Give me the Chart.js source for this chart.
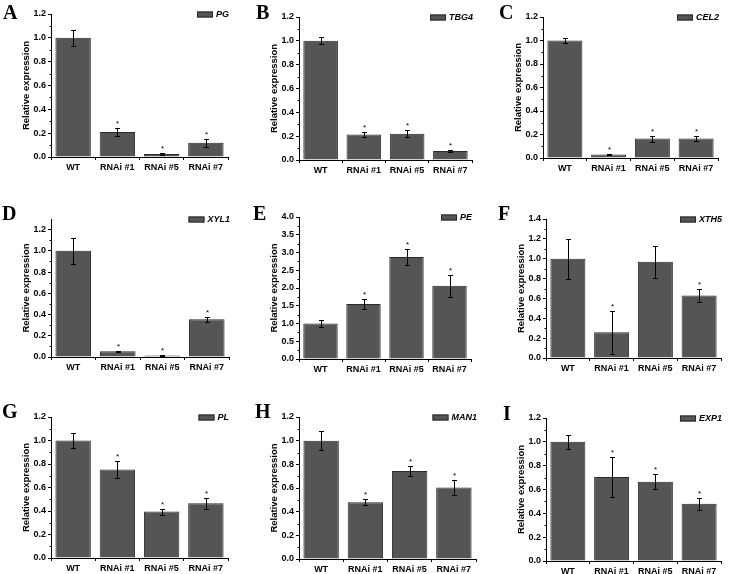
<!DOCTYPE html>
<html>
<head>
<meta charset="utf-8">
<script src="https://cdn.jsdelivr.net/npm/chart.js@4.4.1/dist/chart.umd.min.js"></script>
<style>
  body { margin: 0; background: #fff; }
  #fig { position: relative; width: 729px; height: 574px; overflow: hidden; }
  #fig canvas { position: absolute; }
  .tag { position: absolute; font: bold 20px "Liberation Serif", "Times New Roman", serif; line-height: 20px; color: #000; }
</style>
</head>
<body>
<div id="fig"></div>
<script>
// categories shared by every panel
const categories = ["WT", "RNAi #1", "RNAi #5", "RNAi #7"]
const panelLetters = ["A", "B", "C", "D", "E", "F", "G", "H", "I"]
const geneNames = ["PG", "TBG4", "CEL2", "XYL1", "PE", "XTH5", "PL", "MAN1", "EXP1"]

// relative expression (mean) and error per gene
const pgMeans = [1.0, 0.21, 0.025, 0.12]
const pgErrors = [0.065, 0.03, 0.005, 0.035]
const tbg4Means = [1.0, 0.215, 0.22, 0.075]
const tbg4Errors = [0.03, 0.02, 0.03, 0.005]
const cel2Means = [1.0, 0.03, 0.165, 0.165]
const cel2Errors = [0.025, 0.005, 0.025, 0.02]
const xyl1Means = [1.0, 0.055, 0.015, 0.355]
const xyl1Errors = [0.12, 0.006, 0.003, 0.025]
const peMeans = [1.0, 1.55, 2.87, 2.06]
const peErrors = [0.11, 0.14, 0.23, 0.31]
const xth5Means = [1.0, 0.26, 0.97, 0.63]
const xth5Errors = [0.2, 0.215, 0.16, 0.065]
const plMeans = [1.0, 0.754, 0.395, 0.466]
const plErrors = [0.063, 0.075, 0.025, 0.045]
const man1Means = [1.0, 0.48, 0.743, 0.605]
const man1Errors = [0.08, 0.027, 0.042, 0.065]
const exp1Means = [1.0, 0.705, 0.666, 0.48]
const exp1Errors = [0.06, 0.165, 0.065, 0.05]

// significance marks (asterisk above the error bar)
const starsDefault = [false, true, true, true]
const starsXth5 = [false, true, false, true]

// y axis ranges and tick steps
const yMaxes = [1.2, 1.2, 1.2, 1.3, 4.0, 1.4, 1.2, 1.2, 1.2]
const ySteps = [0.2, 0.2, 0.2, 0.2, 0.5, 0.2, 0.2, 0.2, 0.2]

const allMeans = [pgMeans, tbg4Means, cel2Means, xyl1Means, peMeans, xth5Means, plMeans, man1Means, exp1Means]
const allErrors = [pgErrors, tbg4Errors, cel2Errors, xyl1Errors, peErrors, xth5Errors, plErrors, man1Errors, exp1Errors]
const allStars = [starsDefault, starsDefault, starsDefault, starsDefault, starsDefault, starsXth5, starsDefault, starsDefault, starsDefault]

// layout: canvas cells and target plot rectangles (page pixels)
const colX = [0, 243, 486]
const rowY = [0, 190, 385]
const rowH = [190, 195, 189]
const plotBoxes = [
  [51, 14, 228, 157], [299, 17, 472, 160], [543, 17, 718, 158],
  [51, 219, 229, 357], [299, 217, 471, 359], [546, 219, 721, 358],
  [51, 417, 228, 558], [299, 417, 476, 559], [546, 418, 721, 561],
]
const letterPos = [
  [3, 2], [256, 2], [499, 2],
  [2, 203], [253, 203], [498, 203],
  [2, 401], [255, 401], [503, 403],
]

const barFill = "#555555"
const barEdge = "#2a2a2a"

const fig = document.getElementById("fig")

function makePanel(i) {
  const col = i % 3
  const row = Math.floor(i / 3)
  const cx = colX[col]
  const cy = rowY[row]
  const cw = 243
  const ch = rowH[row]
  const [L, T, R, B] = plotBoxes[i]
  const means = allMeans[i]
  const errors = allErrors[i]
  const stars = allStars[i]
  const step = ySteps[i]

  const canvas = document.createElement("canvas")
  canvas.width = cw
  canvas.height = ch
  canvas.style.left = cx + "px"
  canvas.style.top = cy + "px"
  fig.appendChild(canvas)

  const letter = document.createElement("div")
  letter.className = "tag"
  letter.textContent = panelLetters[i]
  letter.style.left = letterPos[i][0] + "px"
  letter.style.top = letterPos[i][1] + "px"
  fig.appendChild(letter)

  // error bars, asterisks, minor ticks and the little legend
  const extras = {
    id: "extras" + i,
    afterDatasetsDraw(chart) {
      const ctx = chart.ctx
      const y = chart.scales.y
      const area = chart.chartArea
      const meta = chart.getDatasetMeta(0)
      ctx.save()
      ctx.strokeStyle = "#000"
      ctx.fillStyle = "#000"
      ctx.lineWidth = 1
      meta.data.forEach((bar, k) => {
        const hi = Math.round(y.getPixelForValue(means[k] + errors[k])) + 0.5
        const lo = Math.round(y.getPixelForValue(means[k] - errors[k])) + 0.5
        const x = Math.round(bar.x) + 0.5
        ctx.beginPath()
        ctx.moveTo(x, hi)
        ctx.lineTo(x, lo)
        ctx.moveTo(x - 2.5, hi)
        ctx.lineTo(x + 2.5, hi)
        ctx.moveTo(x - 2.5, lo)
        ctx.lineTo(x + 2.5, lo)
        ctx.stroke()
        if (stars[k]) {
          ctx.font = "8px 'Liberation Sans', Arial, sans-serif"
          ctx.textAlign = "center"
          ctx.textBaseline = "alphabetic"
          ctx.fillText("*", x, hi - 3)
        }
      })

      // minor ticks halfway between the major ones
      const left = Math.round(area.left) + 0.5
      ctx.beginPath()
      for (let k = 0; k < y.ticks.length - 1; k++) {
        const mid = (y.ticks[k].value + y.ticks[k + 1].value) / 2
        const py = Math.round(y.getPixelForValue(mid)) + 0.5
        ctx.moveTo(left - 2, py)
        ctx.lineTo(left, py)
      }
      ctx.stroke()

      // legend at top right
      ctx.font = "italic bold 9px 'Liberation Sans', Arial, sans-serif"
      ctx.textAlign = "left"
      ctx.textBaseline = "middle"
      const label = chart.data.datasets[0].label
      const w = ctx.measureText(label).width
      const tx = area.right + 1 - w
      const my = area.top + 0.5
      ctx.fillStyle = barFill
      ctx.fillRect(tx - 19, my - 3, 16, 6)
      ctx.strokeStyle = barEdge
      ctx.strokeRect(tx - 18.5, my - 2.5, 15, 5)
      ctx.fillStyle = "#000"
      ctx.fillText(label, tx, my)
      ctx.restore()
    },
  }

  new Chart(canvas.getContext("2d"), {
    type: "bar",
    data: {
      labels: categories,
      datasets: [
        {
          label: geneNames[i],
          data: means,
          backgroundColor: barFill,
          borderColor: barEdge,
          borderWidth: 1,
          categoryPercentage: 0.8,
          barPercentage: 1,
        },
      ],
    },
    options: {
      responsive: false,
      animation: false,
      devicePixelRatio: 1,
      layout: {
        padding: { left: 0, top: T - cy, right: cx + cw - R, bottom: 0 },
      },
      plugins: {
        legend: { display: false },
        tooltip: { enabled: false },
      },
      scales: {
        x: {
          afterFit: (scale) => { scale.height = cy + ch - B },
          grid: { drawOnChartArea: false, tickLength: 3, color: "#000", offset: true },
          border: { color: "#000", width: 1 },
          ticks: { color: "#000", font: { family: "'Liberation Sans', Arial, sans-serif", size: 9, weight: "bold" }, padding: 2, maxRotation: 0, autoSkip: false },
        },
        y: {
          min: 0,
          max: yMaxes[i],
          afterFit: (scale) => { scale.width = L - cx },
          afterBuildTicks: (scale) => {
            scale.ticks = scale.ticks.filter((t) => Math.abs(t.value / step - Math.round(t.value / step)) < 1e-6)
          },
          grid: { drawOnChartArea: false, tickLength: 3, color: "#000" },
          border: { color: "#000", width: 1 },
          ticks: {
            stepSize: step,
            color: "#000",
            padding: 2,
            font: { family: "'Liberation Sans', Arial, sans-serif", size: 9, weight: "bold" },
            callback: (v) => Number(v).toFixed(1),
          },
          title: {
            display: true,
            text: "Relative expression",
            color: "#000",
            font: { family: "'Liberation Sans', Arial, sans-serif", size: 9.5, weight: "bold" },
            padding: { top: (L - cx) - 25 - 5.7, bottom: 0 },
          },
        },
      },
    },
    plugins: [extras],
  })
}

for (let i = 0; i < 9; i++) makePanel(i)
</script>
</body>
</html>
